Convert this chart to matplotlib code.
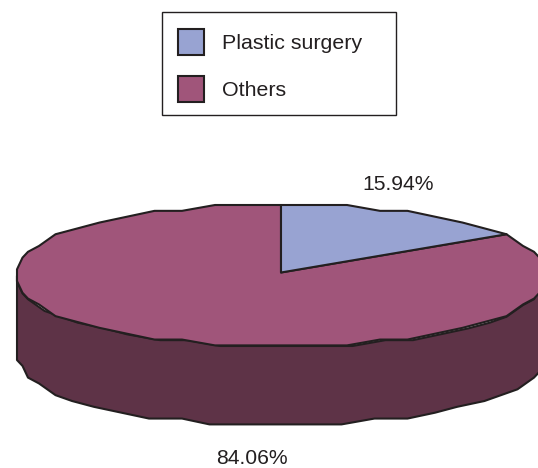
import numpy as np
import matplotlib
matplotlib.use("Agg")
import matplotlib.pyplot as plt
from matplotlib.patches import Polygon, Patch, Rectangle

plt.rcParams['font.family'] = ['Liberation Sans', 'DejaVu Sans']

# Data
labels = ["Plastic surgery", "Others"]
shares = [15.94, 84.06]
share_text = ["15.94%", "84.06%"]
colors = ["#98a3d2", "#a0557a"]
side_color = "#5e3347"
edge = "#231f20"

# Pie geometry, in pixels
cx = 281
cy_back, cy_front = 273, 278
apex_y = 272.5
rx, ry = 265, 68
depth = 79
grid = 5.85
step = 7.2  # degrees between rim samples


def rim(start, stop, offset=0.0):
    # angles run clockwise from the top, x and y snapped to a coarse grid
    ang = np.arange(start + offset, stop, step)
    ang = np.append(np.insert(ang, 0, start), stop)
    c = np.cos(np.radians(ang))
    x = cx + rx * np.sin(np.radians(ang))
    y = np.where(c >= 0, cy_back, cy_front) - ry * c
    y = 205 + np.round((y - 205) / grid) * grid
    x = cx + np.round((x - cx) / 5.5) * 5.5
    return np.column_stack([x, y])


fig = plt.figure(figsize=(5.38, 4.68), dpi=100)
ax = fig.add_axes([0, 0, 1, 1])
ax.set_xlim(0, 538)
ax.set_ylim(468, 0)
ax.axis("off")

# Side wall: front half of the rim, pushed down by the depth
front = rim(90, 270, offset=2.5)
front[:, 1] += 0.6
lower = rim(90, 270, offset=4.5)
lower[:, 1] += depth
wall = np.vstack([front, lower[::-1]])
ax.add_patch(Polygon(wall, closed=True, fc=side_color, ec=edge, lw=1.5, joinstyle="round"))

# Top face wedges from the shares
end_blue = 360 * shares[0] / sum(shares)
apex = [[cx, apex_y]]
blue = np.vstack([apex, rim(0, end_blue)])
maroon = np.vstack([apex, rim(end_blue, 360)])
ax.add_patch(Polygon(maroon, closed=True, fc=colors[1], ec=edge, lw=1.5, joinstyle="round"))
ax.add_patch(Polygon(blue, closed=True, fc=colors[0], ec=edge, lw=1.5, joinstyle="round"))

# Value labels
ax.text(398, 184, share_text[0], ha="center", va="center", fontsize=15.2, color=edge)
ax.text(252, 458, share_text[1], ha="center", va="center", fontsize=15.2, color=edge)

# Legend box and entries
ax.add_patch(Rectangle((162, 12), 234, 103, fc="white", ec=edge, lw=1.0))
handles = [Patch(fc=c, ec=edge, lw=1.5) for c in colors]
ax.legend(handles, labels, loc="upper left", bbox_to_anchor=(178 / 538, 1 - 29 / 468),
          fontsize=15.4, frameon=False, labelcolor=edge,
          handlelength=1.215, handleheight=1.49, handletextpad=0.84,
          labelspacing=0.98, borderpad=0, borderaxespad=0)

fig.savefig("out.png", dpi=100)
